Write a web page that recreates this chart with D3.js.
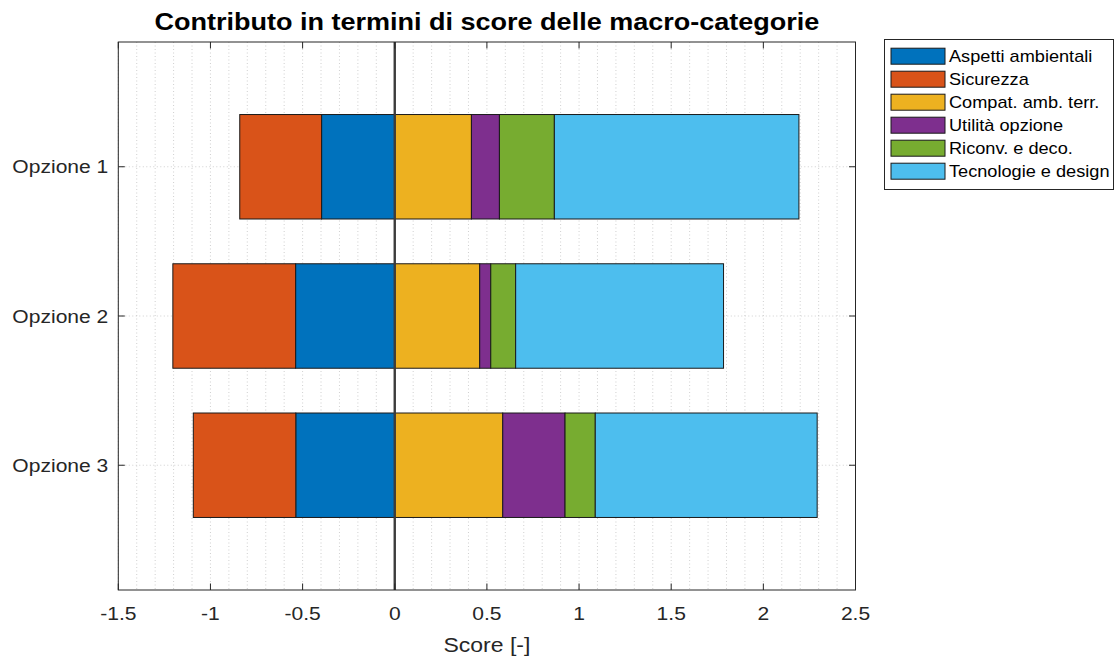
<!DOCTYPE html>
<html>
<head>
<meta charset="utf-8">
<script src="https://cdn.jsdelivr.net/npm/d3@7"></script>
<style>
  html, body { margin: 0; padding: 0; background: #fff; }
  svg { display: block; font-family: "Liberation Sans", Arial, Helvetica, sans-serif; }
</style>
</head>
<body>
<svg id="chart" width="1118" height="659"></svg>
<script>
// ---- Data ----
const categories = ["Opzione 1", "Opzione 2", "Opzione 3"];
const seriesNames = ["Aspetti ambientali", "Sicurezza", "Compat. amb. terr.", "Utilità opzione", "Riconv. e deco.", "Tecnologie e design"];
const aspettiAmbientali = [-0.397, -0.538, -0.537];
const sicurezza = [-0.444, -0.666, -0.556];
const compatAmbTerr = [0.416, 0.461, 0.586];
const utilitaOpzione = [0.152, 0.060, 0.338];
const riconvDeco = [0.298, 0.135, 0.164];
const tecnologieDesign = [1.327, 1.128, 1.204];
const xTicks = [-1.5, -1, -0.5, 0, 0.5, 1, 1.5, 2, 2.5];
const xTickLabels = ["-1.5", "-1", "-0.5", "0", "0.5", "1", "1.5", "2", "2.5"];
const titleText = "Contributo in termini di score delle macro-categorie";
const xLabelText = "Score [-]";

const seriesValues = [aspettiAmbientali, sicurezza, compatAmbTerr, utilitaOpzione, riconvDeco, tecnologieDesign];
const colors = ["#0072BD", "#D95319", "#EDB120", "#7E2F8E", "#77AC30", "#4DBEEE"];

// ---- Layout ----
const svg = d3.select("#chart");
const plot = { left: 118.3, right: 855.5, top: 42, bottom: 590 };
const SX = 1.15; // horizontal text stretch of the original
const x = d3.scaleLinear().domain([-1.5, 2.5]).range([plot.left, plot.right]);
const y = d3.scaleLinear().domain([0.164, 3.836]).range([plot.top, plot.bottom]);
const barH = 0.7;
const axisColor = "#262626";

function stretchedText(g, px, py, txt, opts) {
  const t = g.append("text")
    .attr("transform", `translate(${px},${py}) scale(${SX},1)`)
    .text(txt);
  for (const k in opts) t.attr(k, opts[k]);
  return t;
}

// ---- Grid ----
const grid = svg.append("g");
const minorTicks = d3.range(-15, 26).map(d => d / 10);
grid.selectAll("line.minor").data(minorTicks).join("line")
  .attr("x1", d => x(d)).attr("x2", d => x(d))
  .attr("y1", plot.top).attr("y2", plot.bottom)
  .attr("stroke", "#c4c4c4").attr("stroke-width", 0.8)
  .attr("stroke-dasharray", "1,2.5");
grid.selectAll("line.hgrid").data(categories).join("line")
  .attr("x1", plot.left).attr("x2", plot.right)
  .attr("y1", (d, i) => y(i + 1)).attr("y2", (d, i) => y(i + 1))
  .attr("stroke", "#c4c4c4").attr("stroke-width", 0.8)
  .attr("stroke-dasharray", "1,2.5");

// ---- Stacked bars ----
const rects = [];
categories.forEach((c, ci) => {
  let pos = 0, neg = 0;
  seriesValues.forEach((vals, si) => {
    const v = vals[ci];
    let x0, x1;
    if (v >= 0) { x0 = pos; x1 = pos + v; pos = x1; }
    else { x0 = neg + v; x1 = neg; neg = x0; }
    rects.push({ ci, si, x0, x1 });
  });
});
svg.append("g").selectAll("rect").data(rects).join("rect")
  .attr("x", d => x(d.x0))
  .attr("width", d => x(d.x1) - x(d.x0))
  .attr("y", d => y(d.ci + 1 - barH / 2))
  .attr("height", d => y(d.ci + 1 + barH / 2) - y(d.ci + 1 - barH / 2))
  .attr("fill", d => colors[d.si])
  .attr("stroke", "#1a1a1a").attr("stroke-width", 1);

// ---- Zero line ----
svg.append("line")
  .attr("x1", x(0)).attr("x2", x(0))
  .attr("y1", plot.top).attr("y2", plot.bottom)
  .attr("stroke", "#3c3c3c").attr("stroke-width", 2.4);

// ---- Axes box & ticks ----
const ax = svg.append("g");
ax.append("rect")
  .attr("x", plot.left).attr("y", plot.top)
  .attr("width", plot.right - plot.left).attr("height", plot.bottom - plot.top)
  .attr("fill", "none").attr("stroke", axisColor).attr("stroke-width", 1);
const tl = 6.5;
ax.selectAll("line.xb").data(xTicks).join("line")
  .attr("x1", d => x(d)).attr("x2", d => x(d))
  .attr("y1", plot.bottom).attr("y2", plot.bottom - tl)
  .attr("stroke", axisColor);
ax.selectAll("line.xt").data(xTicks).join("line")
  .attr("x1", d => x(d)).attr("x2", d => x(d))
  .attr("y1", plot.top).attr("y2", plot.top + tl)
  .attr("stroke", axisColor);
ax.selectAll("line.yl").data(categories).join("line")
  .attr("x1", plot.left).attr("x2", plot.left + tl)
  .attr("y1", (d, i) => y(i + 1)).attr("y2", (d, i) => y(i + 1))
  .attr("stroke", axisColor);
ax.selectAll("line.yr").data(categories).join("line")
  .attr("x1", plot.right).attr("x2", plot.right - tl)
  .attr("y1", (d, i) => y(i + 1)).attr("y2", (d, i) => y(i + 1))
  .attr("stroke", axisColor);

// tick labels
xTicks.forEach((t, i) => {
  stretchedText(ax, x(t), 619.5, xTickLabels[i], {
    "text-anchor": "middle", "font-size": "18.3px", "fill": axisColor
  });
});
categories.forEach((c, i) => {
  stretchedText(ax, plot.left - 10, y(i + 1) + 6.5, c, {
    "text-anchor": "end", "font-size": "18.3px", "fill": axisColor
  });
});

// axis label
stretchedText(svg, (plot.left + plot.right) / 2, 652, xLabelText, {
  "text-anchor": "middle", "font-size": "20px", "fill": axisColor
});

// title
stretchedText(svg, (plot.left + plot.right) / 2, 30, titleText, {
  "text-anchor": "middle", "font-size": "23.5px", "font-weight": "bold", "fill": "#000"
});

// ---- Legend ----
const lg = svg.append("g");
const lgBox = { x: 884.5, y: 39.5, w: 229, h: 150 };
lg.append("rect")
  .attr("x", lgBox.x).attr("y", lgBox.y).attr("width", lgBox.w).attr("height", lgBox.h)
  .attr("fill", "#fff").attr("stroke", axisColor).attr("stroke-width", 1);
seriesNames.forEach((name, i) => {
  const cy = 56.2 + 23 * i;
  lg.append("rect")
    .attr("x", 891).attr("y", cy - 8).attr("width", 54).attr("height", 16)
    .attr("fill", colors[i]).attr("stroke", "#1a1a1a").attr("stroke-width", 1);
  stretchedText(lg, 949, cy + 5.8, name, { "font-size": "15.8px", "fill": "#000" });
});
</script>
</body>
</html>
